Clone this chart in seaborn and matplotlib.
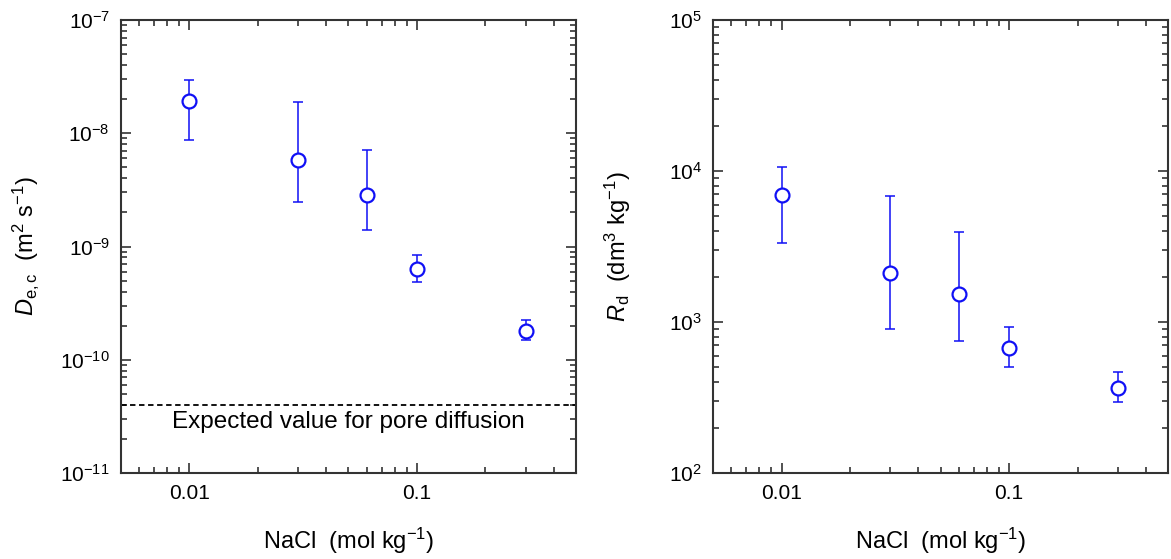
import matplotlib
matplotlib.use("Agg")
import matplotlib.pyplot as plt
import matplotlib.ticker as mticker
import numpy as np
import pandas as pd
import seaborn as sns


NACL = [0.01, 0.03, 0.06, 0.1, 0.3]

DEC = [1.93e-8, 5.85e-9, 2.83e-9, 6.35e-10, 1.81e-10]
DEC_HI = [2.98e-8, 1.89e-8, 7.17e-9, 8.5e-10, 2.23e-10]
DEC_LO = [8.8e-9, 2.47e-9, 1.41e-9, 4.87e-10, 1.49e-10]
PORE_DIFFUSION = 4.0e-11

RD = [6960, 2100, 1524, 675, 366]
RD_HI = [10640, 6820, 3918, 925, 467]
RD_LO = [3312, 901, 753, 507, 294]

BLUE = "#1010f5"

sns.set_theme(style="ticks")
plt.rcParams["font.family"] = ["Liberation Sans", "DejaVu Sans"]
plt.rcParams["mathtext.fontset"] = "custom"
plt.rcParams["mathtext.rm"] = "Liberation Sans"
plt.rcParams["mathtext.it"] = "Liberation Sans:italic"
plt.rcParams["mathtext.default"] = "regular"
plt.rcParams["axes.unicode_minus"] = False
plt.rcParams["text.color"] = "black"
plt.rcParams["axes.labelcolor"] = "black"
plt.rcParams["xtick.labelcolor"] = "black"
plt.rcParams["ytick.labelcolor"] = "black"


def style_axis(ax, exp_lo, exp_hi):
    ax.set_xscale("log")
    ax.set_yscale("log")
    ax.set_xlim(0.005, 0.5)
    ax.set_ylim(10.0 ** exp_lo, 10.0 ** exp_hi)
    ax.xaxis.set_major_locator(mticker.FixedLocator([0.01, 0.1]))
    ax.xaxis.set_major_formatter(mticker.FixedFormatter(["0.01", "0.1"]))
    ax.xaxis.set_minor_locator(mticker.LogLocator(base=10, subs=np.arange(2, 10)))
    ax.xaxis.set_minor_formatter(mticker.NullFormatter())
    decades = [10.0 ** e for e in range(exp_lo, exp_hi + 1)]
    ax.yaxis.set_major_locator(mticker.FixedLocator(decades))
    ax.yaxis.set_major_formatter(mticker.LogFormatterSciNotation())
    ax.yaxis.set_minor_locator(mticker.LogLocator(base=10, subs=np.arange(2, 10), numticks=20))
    ax.yaxis.set_minor_formatter(mticker.NullFormatter())
    ax.tick_params(which="both", direction="in", top=True, right=True,
                   color="#333333", width=1.2)
    ax.tick_params(which="major", length=7, labelsize=15, pad=8)
    ax.tick_params(which="minor", length=4)
    for sp in ax.spines.values():
        sp.set_linewidth(1.5)
        sp.set_color("#333333")
    ax.set_xlabel("NaCl  (mol kg$^{-1}$)", fontsize=17, labelpad=16)


def draw_points(ax, y, lo, hi):
    df = pd.DataFrame({"x": NACL, "y": y})
    yerr = [np.array(y) - np.array(lo), np.array(hi) - np.array(y)]
    ax.errorbar(NACL, y, yerr=yerr, fmt="none", ecolor=BLUE, elinewidth=1.1,
                capsize=3.5, capthick=1.1, zorder=2)
    sns.scatterplot(data=df, x="x", y="y", ax=ax, marker="o", s=100,
                    facecolor="white", edgecolor=BLUE, linewidth=1.6, zorder=3)


fig = plt.figure(figsize=(11.71, 5.59), dpi=100)
ax1 = fig.add_axes([0.1033, 0.1538, 0.3886, 0.8104])
ax2 = fig.add_axes([0.6089, 0.1538, 0.3886, 0.8104])

draw_points(ax1, DEC, DEC_LO, DEC_HI)
ax1.axhline(PORE_DIFFUSION, color="black", linestyle=(0, (3, 2)), linewidth=1.3)
ax1.text(0.5, 0.113, "Expected value for pore diffusion", transform=ax1.transAxes,
         ha="center", va="center", fontsize=17.5)
style_axis(ax1, -11, -7)
ax1.set_ylabel("$\\mathit{D}_{\\mathrm{e,c}}$  (m$^2$ s$^{-1}$)", fontsize=17, labelpad=14)

draw_points(ax2, RD, RD_LO, RD_HI)
style_axis(ax2, 2, 5)
ax2.set_ylabel("$\\mathit{R}_{\\mathrm{d}}$  (dm$^3$ kg$^{-1}$)", fontsize=17, labelpad=26)

fig.savefig("out.png", dpi=100)
